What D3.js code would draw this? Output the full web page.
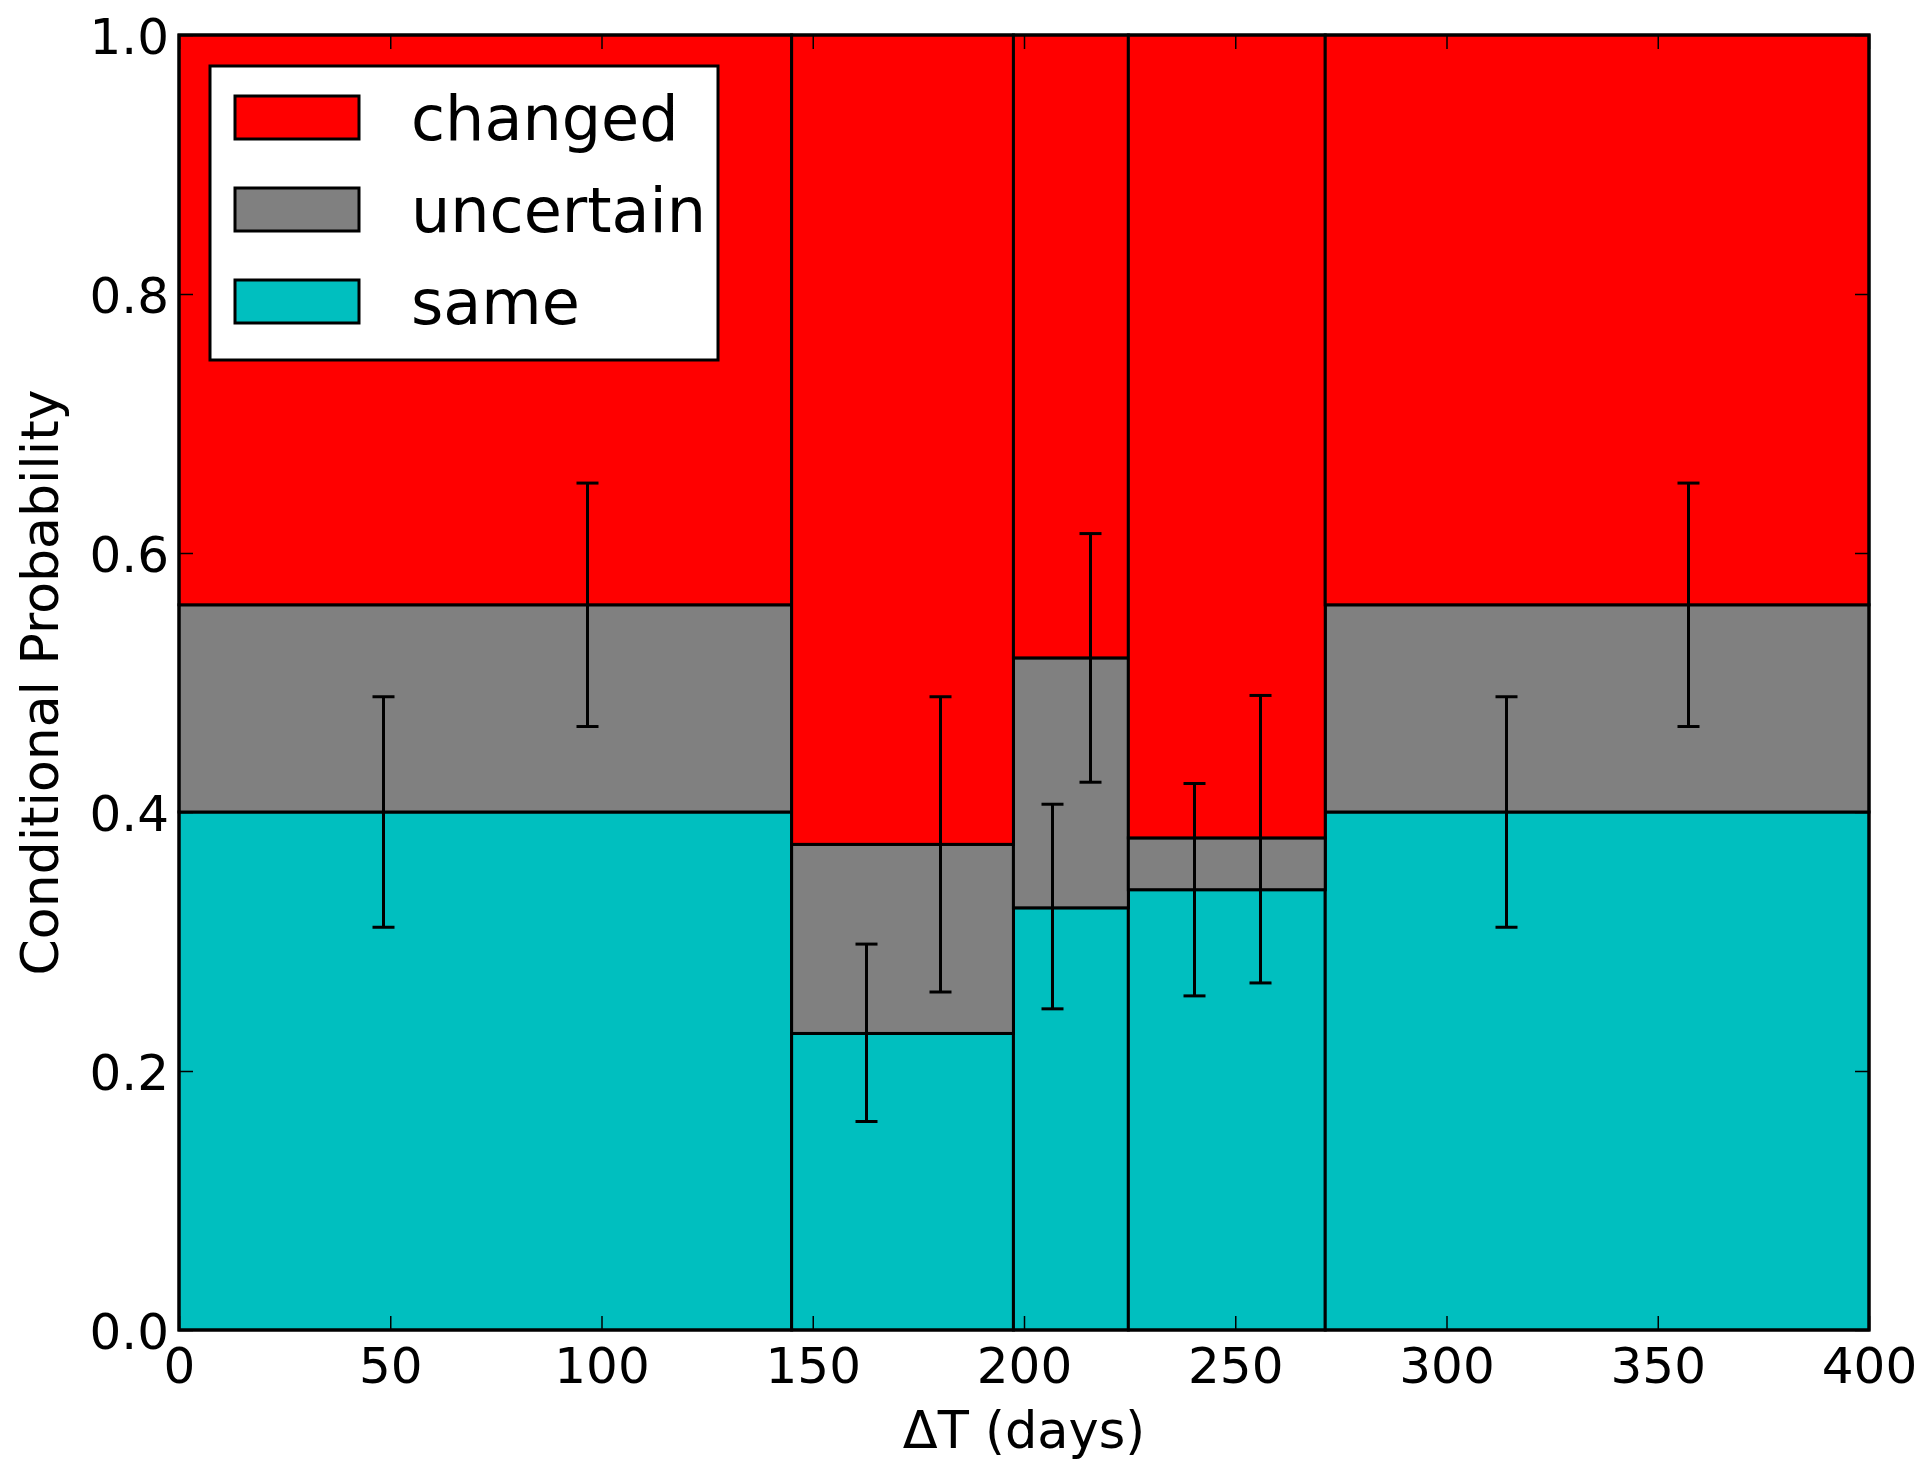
<!DOCTYPE html>
<html>
<head>
<meta charset="utf-8">
<script src="https://cdn.jsdelivr.net/npm/d3@7"></script>
<style>
  html, body { margin: 0; padding: 0; background: #fff; }
  svg { display: block; }
  text { font-family: "DejaVu Sans", sans-serif; fill: #000; }
</style>
</head>
<body>
<svg id="chart" width="1929" height="1462"></svg>
<script>
// Time-difference bins (days): left and right edges
const binStart = [0, 145, 197.5, 224.7, 271.3];
const binEnd   = [145, 197.5, 224.7, 271.3, 400];

// Conditional probability of each outcome per bin
const sameProb      = [0.400, 0.229, 0.326, 0.340, 0.400];
const uncertainProb = [0.160, 0.146, 0.193, 0.040, 0.160];
const changedProb   = [0.440, 0.625, 0.481, 0.620, 0.440];

// Error bars: on "same" and on cumulative "same + uncertain"
const sameErrLow  = [0.311, 0.161, 0.248, 0.258, 0.311];
const sameErrHigh = [0.489, 0.298, 0.406, 0.422, 0.489];
const cumErrLow   = [0.466, 0.261, 0.423, 0.268, 0.466];
const cumErrHigh  = [0.654, 0.489, 0.615, 0.490, 0.654];

const categories = ["changed", "uncertain", "same"];
const colors = { changed: "#ff0000", uncertain: "#808080", same: "#00bfbf" };

const xTicks = [0, 50, 100, 150, 200, 250, 300, 350, 400];
const yTicks = [0.0, 0.2, 0.4, 0.6, 0.8, 1.0];

const margin = { left: 179, right: 1929 - 1869, top: 35, bottom: 1462 - 1330 };
const W = 1929, H = 1462;
const svg = d3.select("#chart");

const x = d3.scaleLinear().domain([0, 400]).range([margin.left, W - margin.right]);
const y = d3.scaleLinear().domain([0, 1]).range([H - margin.bottom, margin.top]);

const plot = svg.append("g");

// Stacked rectangles: same at the bottom, uncertain, then changed on top
const rows = binStart.map((s, i) => ({
  s, e: binEnd[i],
  same: sameProb[i], uncertain: uncertainProb[i], changed: changedProb[i]
}));
const stack = d3.stack().keys(["same", "uncertain", "changed"])(rows);

stack.forEach(layer => {
  plot.append("g").selectAll("rect")
    .data(layer)
    .join("rect")
    .attr("x", d => x(d.data.s))
    .attr("width", d => x(d.data.e) - x(d.data.s))
    .attr("y", d => y(Math.min(1, d[1])))
    .attr("height", d => y(d[0]) - y(Math.min(1, d[1])))
    .attr("fill", colors[layer.key])
    .attr("stroke", "#000")
    .attr("stroke-width", 3);
});

// Error bars at one third and two thirds of each bin
function errorBars(frac, lo, hi) {
  const data = binStart.map((s, i) => ({
    xv: s + (binEnd[i] - s) * frac, lo: lo[i], hi: hi[i]
  }));
  const g = plot.append("g").attr("stroke", "#000").attr("stroke-width", 3);
  data.forEach(d => {
    const cx = Math.round(x(d.xv)) + 0.5;
    g.append("line").attr("x1", cx).attr("x2", cx).attr("y1", y(d.lo)).attr("y2", y(d.hi));
    [d.lo, d.hi].forEach(v => {
      g.append("line").attr("x1", cx - 11).attr("x2", cx + 11).attr("y1", y(v)).attr("y2", y(v));
    });
  });
}
errorBars(1 / 3, sameErrLow, sameErrHigh);
errorBars(2 / 3, cumErrLow, cumErrHigh);

// Axes with inward ticks on all four sides
const tickLen = 14;
const axisBottom = d3.axisBottom(x).tickValues(xTicks).tickFormat(d3.format("d"))
  .tickSizeInner(-tickLen).tickSizeOuter(0).tickPadding(17);
const axisTop = d3.axisTop(x).tickValues(xTicks).tickFormat("")
  .tickSizeInner(-tickLen).tickSizeOuter(0);
const axisLeft = d3.axisLeft(y).tickValues(yTicks).tickFormat(d3.format(".1f"))
  .tickSizeInner(-tickLen).tickSizeOuter(0).tickPadding(10);
const axisRight = d3.axisRight(y).tickValues(yTicks).tickFormat("")
  .tickSizeInner(-tickLen).tickSizeOuter(0);

function styleAxis(g) {
  g.select(".domain").remove();
  g.selectAll(".tick line").attr("stroke", "#000").attr("stroke-width", 1.5);
  g.selectAll(".tick text").attr("font-family", "DejaVu Sans").attr("font-size", 50).attr("fill", "#000");
}
svg.append("g").attr("transform", `translate(0,${y(0)})`).call(axisBottom).call(styleAxis)
  .selectAll(".tick text").attr("dy", "0.72em");
svg.append("g").attr("transform", `translate(0,${y(1)})`).call(axisTop).call(styleAxis);
svg.append("g").attr("transform", `translate(${x(0)},0)`).call(axisLeft).call(styleAxis)
  .selectAll(".tick text").attr("dy", "0.36em");
svg.append("g").attr("transform", `translate(${x(400)},0)`).call(axisRight).call(styleAxis);

// Plot frame
svg.append("rect")
  .attr("x", x(0)).attr("y", y(1))
  .attr("width", x(400) - x(0)).attr("height", y(0) - y(1))
  .attr("fill", "none").attr("stroke", "#000").attr("stroke-width", 3);

// Axis titles
svg.append("text")
  .attr("x", (x(0) + x(400)) / 2).attr("y", 1448)
  .attr("text-anchor", "middle").attr("font-size", 51)
  .text("\u0394T (days)");
svg.append("text")
  .attr("transform", `translate(58,${(y(0) + y(1)) / 2}) rotate(-90)`)
  .attr("text-anchor", "middle").attr("font-size", 52)
  .text("Conditional Probability");

// Legend
const legend = svg.append("g");
legend.append("rect")
  .attr("x", 210).attr("y", 66).attr("width", 508).attr("height", 294)
  .attr("fill", "#fff").attr("stroke", "#000").attr("stroke-width", 3);
categories.forEach((c, i) => {
  const yy = 96 + i * 92;
  legend.append("rect")
    .attr("x", 235).attr("y", yy).attr("width", 124).attr("height", 43)
    .attr("fill", colors[c]).attr("stroke", "#000").attr("stroke-width", 3);
  legend.append("text")
    .attr("x", 411).attr("y", yy + 44)
    .attr("font-size", 62)
    .text(c);
});
</script>
</body>
</html>
